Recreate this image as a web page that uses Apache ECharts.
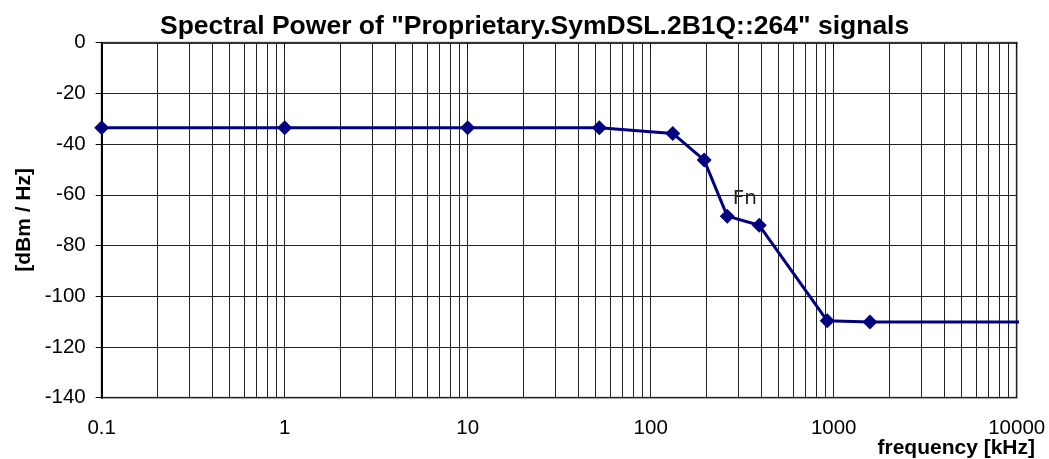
<!DOCTYPE html>
<html>
<head>
<meta charset="utf-8">
<script src="https://cdn.jsdelivr.net/npm/echarts@6/dist/echarts.min.js"></script>
<style>html,body{margin:0;padding:0;background:#fff}#c{width:1049px;height:459px}</style>
</head>
<body>
<div id="c"></div>
<script>
const frequencies = [0.1, 1, 10, 52.4, 132, 196, 262, 392, 922, 1578, 10800];
const powers = [-33.5, -33.5, -33.5, -33.5, -35.8, -46.3, -68.4, -72.0, -109.7, -110.1, -110.1];
const xTickLabels = ['0.1', '1', '10', '100', '1000', '10000'];
const minorGrid = [0.2,0.3,0.4,0.5,0.6,0.7,0.8,0.9,2,3,4,5,6,7,8,9,20,30,40,50,60,70,80,90,200,300,400,500,600,700,800,900,2000,3000,4000,5000,6000,7000,8000,9000];
const fnIndex = 6;
const lastIndex = frequencies.length - 1;

const chart = echarts.init(document.getElementById('c'));
const data = frequencies.map((f, i) => {
  const item = { value: [f, powers[i]] };
  if (i === fnIndex) {
    item.label = { show: true, formatter: 'Fn', position: 'right', offset: [-7, -17],
      color: '#222', fontSize: 20, fontFamily: 'DejaVu Sans' };
  }
  if (i === lastIndex) item.symbol = 'none';
  return item;
});
chart.setOption({
  animation: false,
  title: {
    text: 'Spectral Power of "Proprietary.SymDSL.2B1Q::264" signals',
    left: 160, top: 13, padding: 0,
    textStyle: { fontFamily: 'Arial, Liberation Sans', fontWeight: 'bold', fontSize: 26.5, color: '#000' }
  },
  grid: { left: 101.7, right: 32.3, top: 42.7, bottom: 61.3, show: true, borderColor: '#808080', borderWidth: 2 },
  xAxis: {
    type: 'log', logBase: 10, min: 0.1, max: 10000,
    axisLine: { lineStyle: { color: '#333', width: 2 } },
    axisTick: { show: true, length: 6, lineStyle: { color: '#000' } },
    axisLabel: { formatter: (v, i) => xTickLabels[i], margin: 20, fontSize: 20.5, color: '#000', fontFamily: 'Arial, Liberation Sans' },
    splitLine: { show: true, lineStyle: { color: '#222', width: 1 } },
    minorTick: { show: false }
  },
  yAxis: {
    type: 'value', min: -140, max: 0, interval: 20,
    axisLine: { show: true, lineStyle: { color: '#000', width: 2 } },
    axisTick: { show: true, length: 6, lineStyle: { color: '#000' } },
    axisLabel: { margin: 16, fontSize: 20.5, color: '#000', fontFamily: 'Arial, Liberation Sans' },
    splitLine: { show: true, lineStyle: { color: '#222', width: 1 } }
  },
  graphic: [
    { type: 'text', left: 14, top: 168, rotation: Math.PI / 2,
      style: { text: '[dBm / Hz]', font: 'bold 21px Arial, Liberation Sans', fill: '#000' } },
    { type: 'text', right: 14, top: 438,
      style: { text: 'frequency [kHz]', font: 'bold 21px Arial, Liberation Sans', fill: '#000' } }
  ],
  series: [{
    type: 'line', data: data, clip: false,
    symbol: 'diamond', symbolSize: 15,
    itemStyle: { color: '#000080' },
    lineStyle: { color: '#000080', width: 3 },
    markLine: {
      silent: true, symbol: 'none', label: { show: false },
      lineStyle: { type: 'solid', color: '#222', width: 1 },
      data: minorGrid.map(v => ({ xAxis: v })),
      z: 1
    }
  }]
});
</script>
</body>
</html>
